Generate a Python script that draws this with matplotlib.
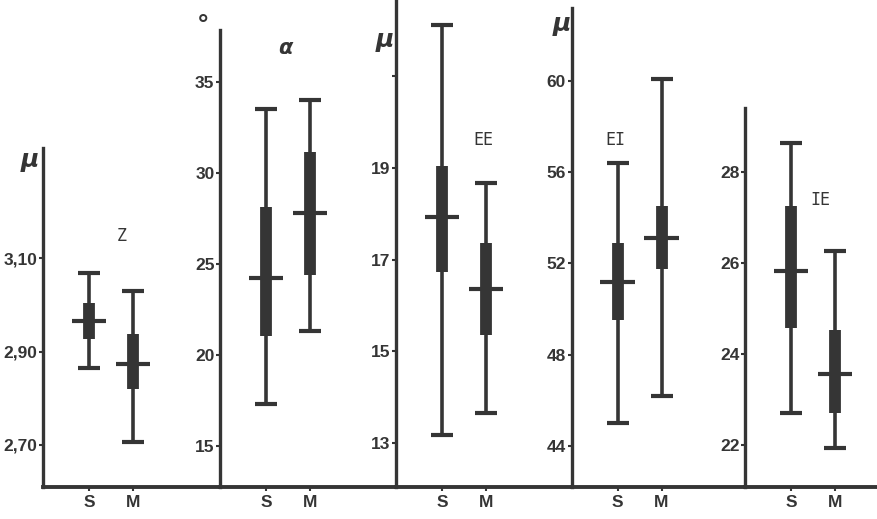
import matplotlib
matplotlib.use('Agg')
import matplotlib.pyplot as plt

# panel labels and tick values
panel_names = ['Z', 'α', 'EE', 'EI', 'IE']
unit_marks = ['µ', '°', 'µ', 'µ', '']
ticks = [[2.70, 2.90, 3.10],
         [15, 20, 25, 30, 35],
         [13, 15, 17, 19, 21],
         [44, 48, 52, 56, 60],
         [22, 24, 26, 28]]
tick_labels = [['2,70', '2,90', '3,10'],
               ['15', '20', '25', '30', '35'],
               ['13', '15', '17', '19', ''],
               ['44', '48', '52', '56', '60'],
               ['22', '24', '26', '28']]
groups = ['S', 'M']

# S group: low, box bottom, mean, box top, high
s_low = [2.864, 17.3, 13.18, 45.0, 22.70]
s_box_lo = [2.926, 21.0, 16.74, 49.5, 24.58]
s_mean = [2.966, 24.2, 17.92, 51.2, 25.82]
s_box_hi = [3.005, 28.1, 19.04, 52.9, 27.25]
s_high = [3.069, 33.5, 22.10, 56.4, 28.64]

# M group
m_low = [2.707, 21.3, 13.67, 46.2, 21.94]
m_box_lo = [2.819, 24.4, 15.36, 51.75, 22.70]
m_mean = [2.874, 27.8, 16.37, 53.1, 23.56]
m_box_hi = [2.938, 31.15, 17.37, 54.5, 24.52]
m_high = [3.030, 34.0, 18.66, 60.1, 26.27]

W, H = 877, 519
ink = '#353535'
base_y = 487
axis_x = [43, 220, 396, 571.5, 745, W]
axis_top = [148, 30, 0, 8, 108]
ylims = [(2.61, 3.336), (12.73, 37.84), (12.05, 22.65), (42.19, 63.2), (21.08, 29.4)]
name_pos = [(122, 236), (285, 48), (483, 140), (615, 140), (820, 200)]
unit_pos = [(30, 160), (203, 26), (385, 40), (562, 24), (0, 0)]

label_font = ['Liberation Sans Narrow', 'Liberation Sans', 'DejaVu Sans']

fig = plt.figure(figsize=(W / 100, H / 100), dpi=100)
fig.patch.set_facecolor('white')

for i in range(5):
    left = axis_x[i] / W
    width = (axis_x[i + 1] - axis_x[i]) / W
    bottom = 1 - base_y / H
    height = (base_y - axis_top[i]) / H
    ax = fig.add_axes([left, bottom, width, height])
    ax.set_facecolor('none')

    px = axis_x[i + 1] - axis_x[i]
    ax.set_xlim(-46 / 44, (px - 46) / 44)
    ax.set_ylim(*ylims[i])

    lows = [s_low[i], m_low[i]]
    blo = [s_box_lo[i], m_box_lo[i]]
    means = [s_mean[i], m_mean[i]]
    bhi = [s_box_hi[i], m_box_hi[i]]
    highs = [s_high[i], m_high[i]]
    xs = [0, 1]

    ax.vlines(xs, lows, highs, color=ink, lw=2.6, zorder=2)
    ax.vlines(xs, blo, bhi, color=ink, lw=8.5, zorder=3)
    for x, lo, hi, mu in zip(xs, lows, highs, means):
        ax.hlines([lo, hi], x - 0.25, x + 0.25, color=ink, lw=3.0, zorder=2)
        ax.hlines(mu, x - 0.39, x + 0.39, color=ink, lw=3.0, zorder=4)

    for side in ['top', 'right']:
        ax.spines[side].set_visible(False)
    ax.spines['left'].set_linewidth(2.4)
    ax.spines['bottom'].set_linewidth(2.8)
    ax.spines['left'].set_color(ink)
    ax.spines['bottom'].set_color(ink)

    ax.set_yticks(ticks[i])
    ax.set_yticklabels(tick_labels[i], family=label_font, fontweight='bold', fontsize=12.5)
    ax.set_xticks(xs)
    ax.set_xticklabels(groups, family=label_font, fontweight='bold', fontsize=12.5)
    ax.tick_params(axis='y', direction='out', length=3, width=1.5, pad=1, colors=ink)
    ax.tick_params(axis='x', direction='out', length=3, width=1.5, pad=3, colors=ink)

    nx, ny = name_pos[i]
    if panel_names[i] == 'α':
        fig.text(nx / W, 1 - ny / H, panel_names[i], ha='center', va='center',
                 fontsize=15, fontweight='bold', style='italic', color=ink)
    else:
        fig.text(nx / W, 1 - ny / H, panel_names[i], ha='center', va='center',
                 fontsize=12, family='DejaVu Sans Mono', color=ink)
    if unit_marks[i]:
        ux, uy = unit_pos[i]
        fig.text(ux / W, 1 - uy / H, unit_marks[i], ha='center', va='center',
                 fontsize=18, fontweight='bold', style='italic', color=ink)

fig.savefig('out.png', dpi=100, facecolor='white')
